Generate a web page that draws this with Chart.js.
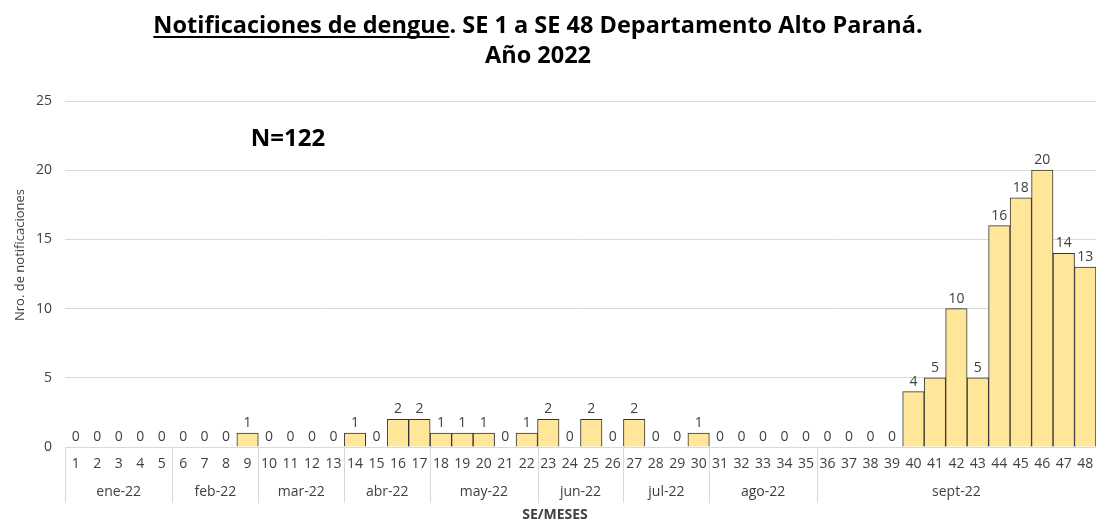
<!DOCTYPE html>
<html>
<head>
<meta charset="utf-8">
<script src="https://cdn.jsdelivr.net/npm/chart.js@4"></script>
<style>
  html, body { margin: 0; padding: 0; background: #fff; }
  #wrap { width: 1096px; height: 522px; position: relative; }
</style>
</head>
<body>
<div id="wrap"><canvas id="chart"></canvas></div>
<script>
// semanas epidemiológicas 1..48
const semanas = ["1","2","3","4","5","6","7","8","9","10","11","12","13","14","15","16",
  "17","18","19","20","21","22","23","24","25","26","27","28","29","30","31","32",
  "33","34","35","36","37","38","39","40","41","42","43","44","45","46","47","48"];

// notificaciones por semana
const notificaciones = [0,0,0,0,0,0,0,0,1,0,0,0,0,1,0,2,
  2,1,1,1,0,1,2,0,2,0,2,0,0,1,0,0,
  0,0,0,0,0,0,0,4,5,10,5,16,18,20,14,13];

// meses y cantidad de semanas de cada uno
const meses = ["ene-22","feb-22","mar-22","abr-22","may-22","jun-22","jul-22","ago-22","sept-22"];
const semanasPorMes = [5,4,4,4,5,4,4,5,13];

const yTicks = [0,5,10,15,20,25];

const FONT = "'Open Sans', 'Noto Sans', sans-serif";

// título, N, etiquetas de meses y títulos de ejes
const extras = {
  id: "extras",
  afterDraw(chart) {
    const { ctx, chartArea, scales } = chart;
    const x = scales.x;
    ctx.save();

    // título (primera parte subrayada)
    ctx.fillStyle = "#000";
    ctx.textBaseline = "alphabetic";
    ctx.font = "bold 23.5px " + FONT;
    const parte1 = "Notificaciones de dengue";
    const parte2 = ". SE 1 a SE 48 Departamento Alto Paraná.";
    const w1 = ctx.measureText(parte1).width;
    const w2 = ctx.measureText(parte2).width;
    const x0 = 538 - (w1 + w2) / 2;
    ctx.textAlign = "left";
    ctx.fillText(parte1, x0, 33);
    ctx.fillText(parte2, x0 + w1, 33);
    ctx.fillRect(x0, 36, w1, 2);
    ctx.textAlign = "center";
    ctx.fillText("Año 2022", 538, 63);

    // N
    ctx.font = "bold 24px " + FONT;
    ctx.fillText("N=122", 288, 146);

    // separadores y meses
    const half = (x.getPixelForValue(1) - x.getPixelForValue(0)) / 2;
    ctx.strokeStyle = "#d9d9d9";
    ctx.lineWidth = 1;
    ctx.fillStyle = "#404040";
    ctx.font = "14px " + FONT;
    ctx.textBaseline = "middle";
    let idx = 0;
    const linea = (px) => {
      ctx.beginPath();
      ctx.moveTo(Math.round(px) + 0.5, chartArea.bottom);
      ctx.lineTo(Math.round(px) + 0.5, 503);
      ctx.stroke();
    };
    linea(x.getPixelForValue(0) - half);
    meses.forEach((m, i) => {
      const a = x.getPixelForValue(idx) - half;
      idx += semanasPorMes[i];
      const b = x.getPixelForValue(idx - 1) + half;
      linea(b);
      ctx.fillText(m, (a + b) / 2, 492);
    });

    // título eje x
    ctx.fillStyle = "#404040";
    ctx.font = "bold 14px " + FONT;
    ctx.fillText("SE/MESES", 555, 515);

    // título eje y
    ctx.translate(20, 255);
    ctx.rotate(-Math.PI / 2);
    ctx.font = "13px " + FONT;
    ctx.fillText("Nro. de notificaciones", 0, 0);

    ctx.restore();
  }
};

// etiquetas de valor encima de cada barra
const valores = {
  id: "valores",
  afterDatasetsDraw(chart) {
    const { ctx } = chart;
    const meta = chart.getDatasetMeta(0);
    ctx.save();
    ctx.fillStyle = "#404040";
    ctx.font = "14px " + FONT;
    ctx.textAlign = "center";
    ctx.textBaseline = "bottom";
    meta.data.forEach((bar, i) => {
      ctx.fillText(String(notificaciones[i]), bar.x, bar.y - 3);
    });
    ctx.restore();
  }
};

new Chart(document.getElementById("chart"), {
  type: "bar",
  data: {
    labels: semanas,
    datasets: [{
      label: "Notificaciones",
      data: notificaciones,
      backgroundColor: "#ffe699",
      borderColor: "#333333",
      borderWidth: 1,
      categoryPercentage: 1,
      barPercentage: 1,
    }],
  },
  options: {
    responsive: true,
    maintainAspectRatio: false,
    animation: false,
    layout: { padding: { top: 101, right: 0, bottom: 0, left: 0 } },
    scales: {
      x: {
        grid: { display: false, drawTicks: false },
        border: { color: "#d9d9d9" },
        ticks: {
          color: "#404040",
          font: { family: FONT, size: 14 },
          padding: 9,
          maxRotation: 0,
          autoSkip: false,
        },
        afterFit: (s) => { s.height = 75; s.paddingLeft = 0; s.paddingRight = 0; },
      },
      y: {
        min: 0,
        max: 25,
        afterBuildTicks: (s) => { s.ticks = yTicks.map((v) => ({ value: v })); },
        grid: { color: "#d9d9d9", drawTicks: false },
        border: { display: false },
        ticks: {
          color: "#404040",
          font: { family: FONT, size: 14 },
          padding: 13,
        },
        afterFit: (s) => { s.width = 65; },
      },
    },
    plugins: {
      legend: { display: false },
      tooltip: { enabled: false },
    },
  },
  plugins: [extras, valores],
});
</script>
</body>
</html>
